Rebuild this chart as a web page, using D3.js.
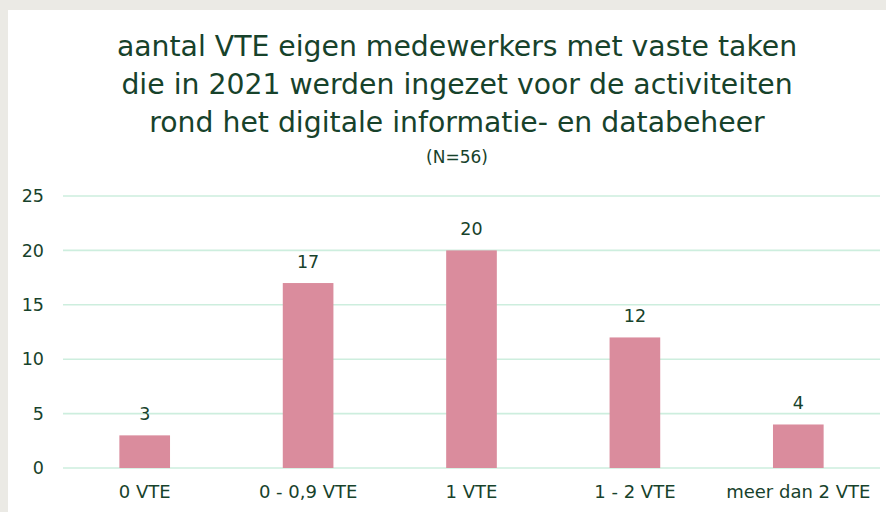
<!DOCTYPE html>
<html>
<head>
<meta charset="utf-8">
<script src="https://cdn.jsdelivr.net/npm/d3@7"></script>
<style>
  body { margin: 0; background: #ebeae5; }
  svg { display: block; }
</style>
</head>
<body>
<div id="vis"></div>
<script>
// chart data
const categories = ["0 VTE", "0 - 0,9 VTE", "1 VTE", "1 - 2 VTE", "meer dan 2 VTE"];
const values = [3, 17, 20, 12, 4];
const yTicks = [0, 5, 10, 15, 20, 25];
const titleLines = [
  "aantal VTE eigen medewerkers met vaste taken",
  "die in 2021 werden ingezet voor de activiteiten",
  "rond het digitale informatie- en databeheer"
];
const subtitle = "(N=56)";

const width = 886;
const height = 512;
const textColour = "#17422b";
const font = "'DejaVu Sans', sans-serif";

const svg = d3.select("#vis")
  .append("svg")
  .attr("width", width)
  .attr("height", height);

// grey frame with white panel
svg.append("rect").attr("width", width).attr("height", height).attr("fill", "#ebeae5");
svg.append("rect").attr("x", 8).attr("y", 10).attr("width", width - 8).attr("height", height - 10).attr("fill", "#ffffff");

// title
svg.append("g")
  .selectAll("text")
  .data(titleLines)
  .enter()
  .append("text")
  .attr("x", 457)
  .attr("y", (d, i) => 56 + i * 38)
  .attr("text-anchor", "middle")
  .style("font-family", font)
  .style("font-size", "28.3px")
  .attr("fill", textColour)
  .text(d => d);

svg.append("text")
  .attr("x", 457)
  .attr("y", 163)
  .attr("text-anchor", "middle")
  .style("font-family", font)
  .style("font-size", "17px")
  .attr("fill", textColour)
  .text(subtitle);

// scales
const x = d3.scaleBand()
  .domain(categories)
  .range([63, 880])
  .paddingInner(0.69)
  .paddingOuter(0.345);

const y = d3.scaleLinear()
  .domain([0, 25])
  .range([468, 196]);

// gridlines
svg.append("g")
  .selectAll("line")
  .data(yTicks)
  .enter()
  .append("line")
  .attr("x1", 63)
  .attr("x2", 880)
  .attr("y1", d => y(d))
  .attr("y2", d => y(d))
  .attr("stroke", "#cdeede")
  .attr("stroke-width", 1.6);

// y axis labels
const yAxis = svg.append("g")
  .attr("transform", "translate(44,0)")
  .call(d3.axisLeft(y).tickValues(yTicks).tickSize(0).tickPadding(0));
yAxis.select(".domain").remove();
yAxis.selectAll("text")
  .style("font-family", font)
  .style("font-size", "17.5px")
  .attr("fill", textColour);

// x axis labels
const xAxis = svg.append("g")
  .attr("transform", "translate(0,468)")
  .call(d3.axisBottom(x).tickSize(0).tickPadding(17));
xAxis.select(".domain").remove();
xAxis.selectAll("text")
  .style("font-family", font)
  .style("font-size", "18px")
  .attr("fill", textColour);

// bars
const data = categories.map((c, i) => ({ cat: c, value: values[i] }));

svg.append("g")
  .selectAll("rect")
  .data(data)
  .enter()
  .append("rect")
  .attr("x", d => x(d.cat))
  .attr("y", d => y(d.value))
  .attr("width", x.bandwidth())
  .attr("height", d => y(0) - y(d.value))
  .attr("fill", "#da8c9d");

// value labels
svg.append("g")
  .selectAll("text")
  .data(data)
  .enter()
  .append("text")
  .attr("x", d => x(d.cat) + x.bandwidth() / 2)
  .attr("y", d => y(d.value) - 15)
  .attr("text-anchor", "middle")
  .style("font-family", font)
  .style("font-size", "17.5px")
  .attr("fill", textColour)
  .text(d => d.value);
</script>
</body>
</html>
